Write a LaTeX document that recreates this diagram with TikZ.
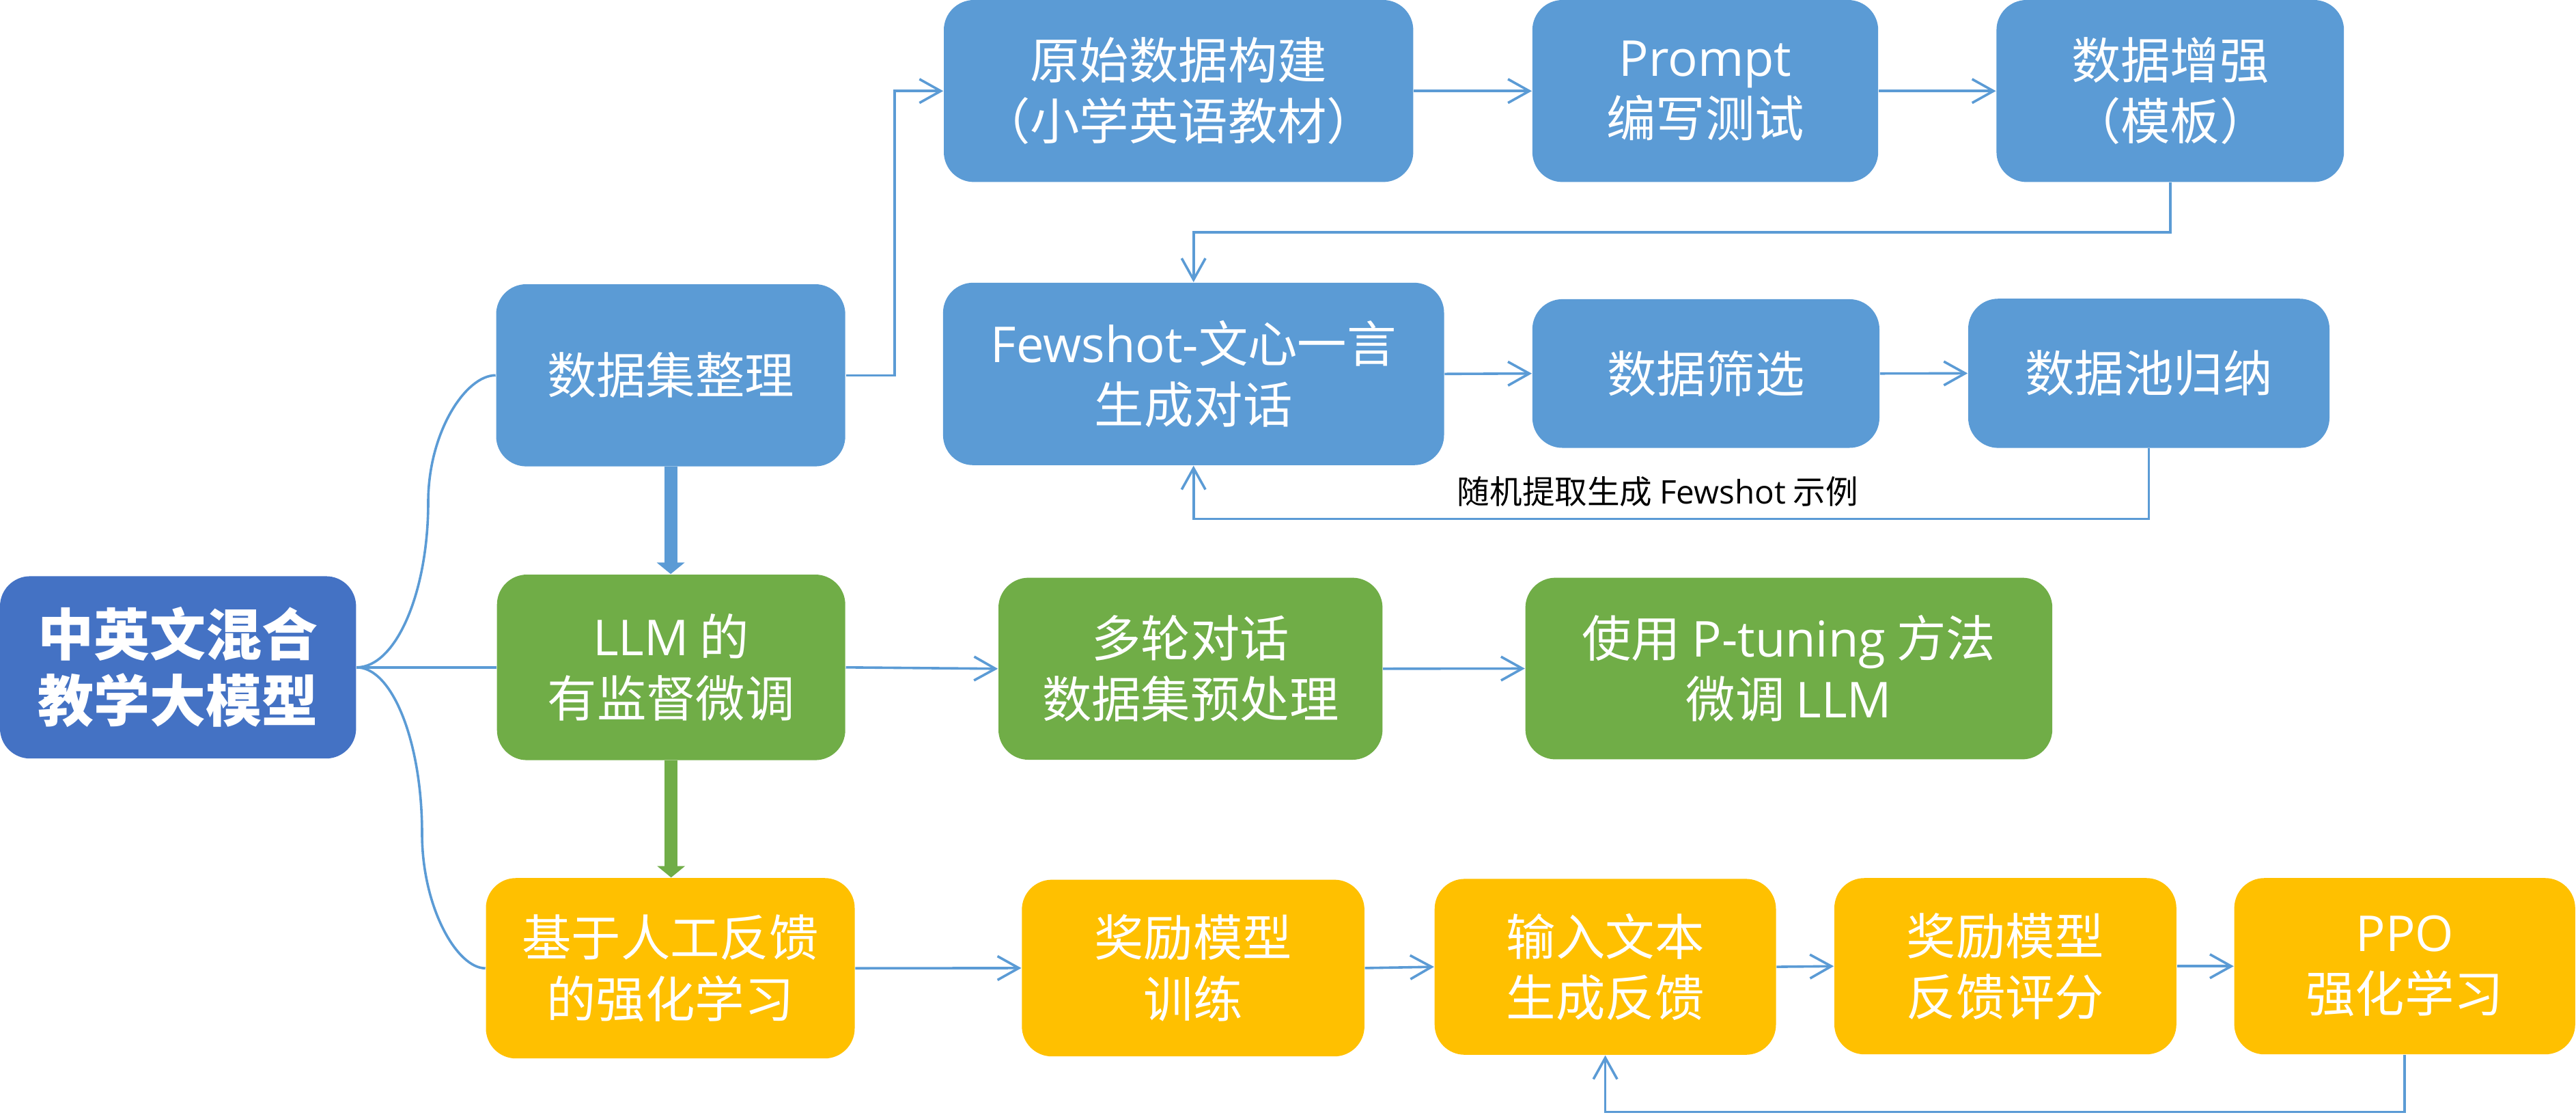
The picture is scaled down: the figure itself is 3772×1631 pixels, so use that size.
\documentclass[tikz,border=0pt]{standalone}
\usepackage{fontspec}
\setmainfont{Noto Sans CJK SC}
\newfontfamily\lat{Open Sans}
\usetikzlibrary{arrows.meta}
\definecolor{rootblue}{HTML}{4472C4}
\definecolor{boxblue}{HTML}{5B9BD5}
\definecolor{boxgreen}{HTML}{70AD47}
\definecolor{boxyellow}{HTML}{FFC000}
\definecolor{lineblue}{HTML}{5B9BD5}
\newcommand\boxfont{\fontsize{18.1pt}{22.3pt}\selectfont}
\newcommand\rootfont{\fontsize{20.5pt}{24.3pt}\selectfont\bfseries}
\newcommand\labfont{\fontsize{11.9pt}{14pt}\selectfont}
\tikzset{
  box/.style={rounded corners=11pt, inner sep=0pt, text=white, align=center, font=\boxfont},
  bluebox/.style={box, fill=boxblue},
  greenbox/.style={box, fill=boxgreen},
  yellowbox/.style={box, fill=boxyellow},
  arr/.style={draw=lineblue, line width=0.9pt, -{Straight Barb[length=7.8pt,width=8.7pt]}},
  conn/.style={draw=lineblue, line width=0.9pt},
  fatblue/.style={draw=boxblue, line width=4.75pt, -{Triangle[length=4.2pt,width=10pt]}},
  fatgreen/.style={draw=boxgreen, line width=4.75pt, -{Triangle[length=4.2pt,width=10pt]}},
}
\begin{document}
\begin{tikzpicture}[x=0.25pt,y=-0.25pt]
\useasboundingbox (0,0) rectangle (3772,1631);

% root
\node[box, fill=rootblue, font=\rootfont, minimum width=130.35pt, minimum height=66.7pt] (root) at (260.7,976.8) {中英文混合\\教学大模型};

% level 1
\node[bluebox, minimum width=127.8pt, minimum height=66.65pt] (A1) at (982.1,549.3) {数据集整理};
\node[greenbox, minimum width=127.5pt, minimum height=67.9pt] (B1) at (982.7,976.8) {{\lat LLM} 的\\有监督微调};
\node[yellowbox, minimum width=135pt, minimum height=66pt] (C1) at (981.5,1417.2) {基于人工反馈\\的强化学习};

% data branch
\node[bluebox, minimum width=171.85pt, minimum height=66.6pt] (A2) at (1725.7,133.2) {原始数据构建\\（小学英语教材）};
\node[bluebox, minimum width=126.6pt, minimum height=66.6pt] (A3) at (2497,133.2) {{\lat Prompt}\\编写测试};
\node[bluebox, minimum width=127.2pt, minimum height=66.6pt] (A4) at (3177.8,133.2) {数据增强\\（模板）};
\node[bluebox, minimum width=183.4pt, minimum height=66.75pt] (A5) at (1747.7,547.3) {{\lat Fewshot-}文心一言\\生成对话};
\node[bluebox, minimum width=127.05pt, minimum height=54.4pt] (A6) at (2497.9,546.7) {数据筛选};
\node[bluebox, minimum width=132.25pt, minimum height=54.6pt] (A7) at (3146.5,546.4) {数据池归纳};
\node[font=\labfont, text=black, inner sep=0pt] (lab) at (2427.3,720) {随机提取生成 {\lat Fewshot} 示例};

% fine-tuning branch
\node[greenbox, minimum width=140.6pt, minimum height=66.6pt] (B2) at (1743.2,978.8) {多轮对话\\数据集预处理};
\node[greenbox, minimum width=192.9pt, minimum height=66.45pt] (B3) at (2619.4,978.5) {使用 {\lat P-tuning} 方法\\微调 {\lat LLM}};

% RLHF branch
\node[yellowbox, minimum width=125.4pt, minimum height=64.65pt] (C2) at (1747.1,1416.9) {奖励模型\\训练};
\node[yellowbox, minimum width=124.95pt, minimum height=64.35pt] (C3) at (2350.6,1415.1) {输入文本\\生成反馈};
\node[yellowbox, minimum width=125.2pt, minimum height=64.5pt] (C4) at (2936.4,1414.2) {奖励模型\\反馈评分};
\node[yellowbox, minimum width=124.8pt, minimum height=64.5pt] (C5) at (3521.2,1414.2) {{\lat PPO}\\强化学习};

% root connectors
\coordinate (m1) at (627,735);
\coordinate (m3) at (618,1220);
\draw[conn] (root.east) .. controls (579.4,976.8) and (627,868) .. (m1)
  .. controls (627,633) and (681.7,549.3) .. (A1.west);
\draw[conn] (root.east) -- (B1.west);
\draw[conn] (root.east) .. controls (574.5,976.8) and (618,1086) .. (m3)
  .. controls (618,1328) and (669,1417.2) .. (C1.west);

% thick vertical arrows
\draw[fatblue] (A1.south) -- (A1.south |- B1.north);
\draw[fatgreen] (B1.south) -- (B1.south |- C1.north);

% data branch arrows
\coordinate (f0) at (1309.8,133.2);
\draw[arr] (A1.east) -| (f0) -- (A2.west);
\draw[arr] (A2.east) -- (A3.west);
\draw[arr] (A3.east) -- (A4.west);
\coordinate (f1) at (1747.7,339.8);
\draw[arr] (A4.south) |- (f1) -- (A5.north);
\draw[arr] (A5.east) -- (A6.west);
\draw[arr] (A6.east) -- (A7.west);
\coordinate (f2) at (1747.7,759.6);
\draw[arr] (A7.south) |- (f2) -- (A5.south);

% fine-tuning arrows
\draw[arr] (B1.east) -- (B2.west);
\draw[arr] (B2.east) -- (B3.west);

% RLHF arrows
\draw[arr] (C1.east) -- (C2.west);
\draw[arr] (C2.east) -- (C3.west);
\draw[arr] (C3.east) -- (C4.west);
\draw[arr] (C4.east) -- (C5.west);
\coordinate (f3) at (2350.6,1627.4);
\draw[arr] (C5.south) |- (f3) -- (C3.south);
\end{tikzpicture}
\end{document}
